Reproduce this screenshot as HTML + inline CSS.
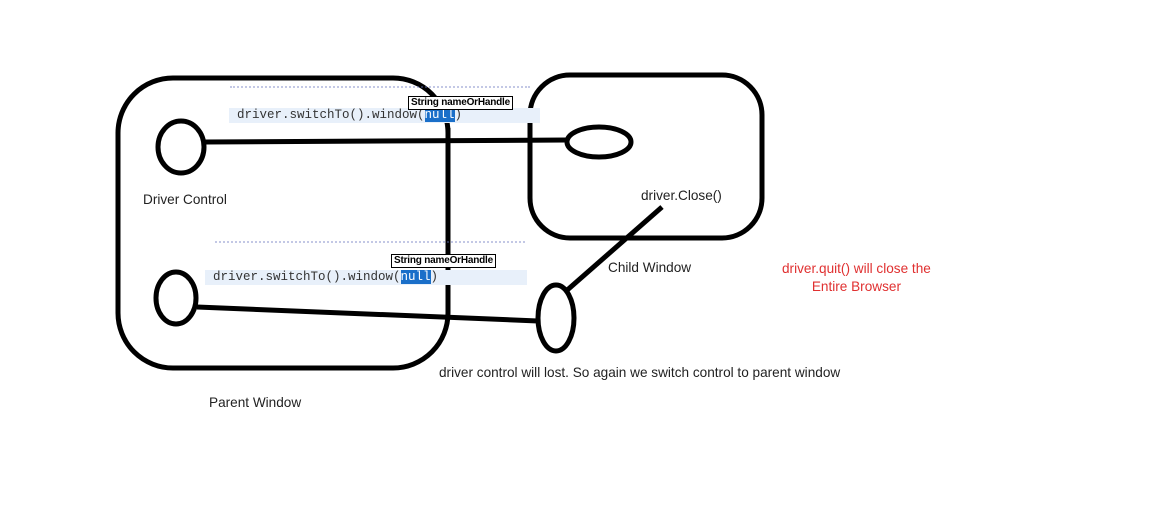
<!DOCTYPE html>
<html><head><style>
body{margin:0;background:#fff;width:1165px;height:521px;overflow:hidden;position:relative;font-family:"Liberation Sans",sans-serif}
.t{position:absolute;font-size:13.6px;color:#222;white-space:nowrap}
.code{position:absolute;box-sizing:border-box;background:#e8f0fa;font-family:"Liberation Mono",monospace;font-size:12.5px;color:#333;white-space:nowrap;line-height:15px}
.hl{background:#1a6fc9;color:#fff}
.tip{position:absolute;background:#fff;border:1px solid #000;font-size:10px;font-weight:bold;line-height:12px;padding:0 2px;white-space:nowrap;letter-spacing:-0.2px}
.dots{position:absolute;height:3px;border-top:2px dotted #6a78c0;opacity:.4}
</style></head><body>
<svg width="1165" height="521" style="position:absolute;left:0;top:0">
<g fill="none" stroke="#000" stroke-width="5">
<rect x="118" y="78" width="330" height="290" rx="55"/>
<rect x="530" y="75" width="232" height="163" rx="40"/>
</g>
</svg>
<div class="dots" style="left:230px;top:86px;width:300px"></div>
<div class="code" style="left:229px;top:108px;width:311px;padding-left:8px">driver.switchTo().window(<span class="hl">null</span>)</div>
<div class="tip" style="left:408px;top:96px">String nameOrHandle</div>
<div class="dots" style="left:215px;top:241px;width:310px"></div>
<div class="code" style="left:205px;top:270px;width:322px;padding-left:8px">driver.switchTo().window(<span class="hl">null</span>)</div>
<div class="tip" style="left:391px;top:254px">String nameOrHandle</div>
<svg width="1165" height="521" style="position:absolute;left:0;top:0">
<g fill="none" stroke="#000" stroke-width="5">
<ellipse cx="181" cy="147" rx="23" ry="26"/>
<ellipse cx="599" cy="142" rx="32" ry="15"/>
<ellipse cx="176" cy="298" rx="20" ry="26"/>
<ellipse cx="556" cy="318" rx="18" ry="33"/>
<line x1="205" y1="142" x2="567" y2="140"/>
<line x1="448" y1="128" x2="448" y2="232"/>
<line x1="197" y1="307" x2="538" y2="321"/>
<line x1="565" y1="292" x2="662" y2="207"/>
</g>
</svg>
<div class="t" style="left:143px;top:192px">Driver Control</div>
<div class="t" style="left:641px;top:188px">driver.Close()</div>
<div class="t" style="left:608px;top:260px">Child Window</div>
<div class="t" style="left:782px;top:260px;color:#e03030;text-align:center;line-height:18px">driver.quit() will close the<br>Entire Browser</div>
<div class="t" style="left:439px;top:365px">driver control will lost. So again we switch control to parent window</div>
<div class="t" style="left:209px;top:395px">Parent Window</div>
</body></html>
